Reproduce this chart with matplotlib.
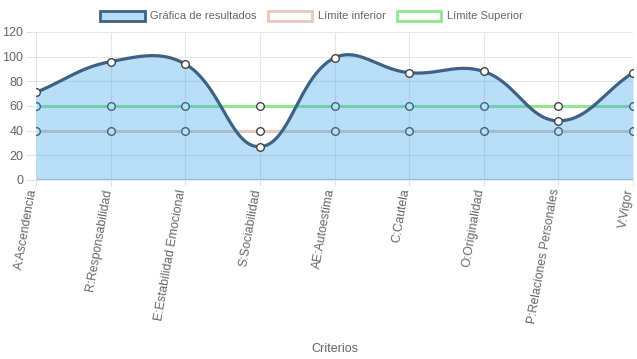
import numpy as np
import matplotlib
matplotlib.use("Agg")
import matplotlib.pyplot as plt
import matplotlib.transforms as mtransforms
from matplotlib.patches import Patch

plt.rcParams['font.family'] = ['Liberation Sans', 'DejaVu Sans']

criterios = ["A:Ascendencia", "R:Responsabilidad", "E:Estabilidad Emocional",
             "S:Sociabilidad", "AE:Autoestima", "C:Cautela", "O:Originalidad",
             "P:Relaciones Personales", "V:Vigor"]
resultados = [71, 96, 94, 27, 99, 87, 88, 48, 87]
limite_inferior = [40, 40, 40, 40, 40, 40, 40, 40, 40]
limite_superior = [60, 60, 60, 60, 60, 60, 60, 60, 60]
y_ticks = [0, 20, 40, 60, 80, 100, 120]

txt = '#666666'
fig = plt.figure(figsize=(6.37, 3.59), dpi=100)
ax = fig.add_axes([36 / 637, 1 - 180 / 359, (633 - 36) / 637, (180 - 32) / 359])
x = np.arange(len(criterios))
ax.set_xlim(0, len(criterios) - 1)
ax.set_ylim(0, 120)


def chartjs_curve(xs, ys, t=0.4, n=40):
    # cubic bezier like Chart.js (tension 0.4), computed in pixel space
    pts = ax.transData.transform(np.column_stack([xs, ys]))
    m = len(pts)
    cp_prev, cp_next = [], []
    for i in range(m):
        prev = pts[i - 1] if i > 0 else pts[i]
        cur = pts[i]
        nxt = pts[i + 1] if i < m - 1 else pts[i]
        d01 = np.hypot(*(cur - prev))
        d12 = np.hypot(*(nxt - cur))
        tot = d01 + d12
        s01 = d01 / tot if tot else 0
        s12 = d12 / tot if tot else 0
        cp_prev.append(cur - t * s01 * (nxt - prev))
        cp_next.append(cur + t * s12 * (nxt - prev))
    out = []
    u = np.linspace(0, 1, n)[:, None]
    for i in range(m - 1):
        p0, p1, p2, p3 = pts[i], cp_next[i], cp_prev[i + 1], pts[i + 1]
        seg = ((1 - u) ** 3) * p0 + 3 * ((1 - u) ** 2) * u * p1 + 3 * (1 - u) * u ** 2 * p2 + u ** 3 * p3
        out.append(seg if i == 0 else seg[1:])
    out = np.vstack(out)
    return ax.transData.inverted().transform(out)


# grid
for yv in y_ticks:
    ax.axhline(yv, color='#cccccc' if yv == 0 else '#e6e6e6', lw=1.6 if yv == 0 else 0.8, zorder=0.5)
for xv in x:
    ax.axvline(xv, color='#e6e6e6', lw=0.8, zorder=0.5)

mk = dict(marker='o', ms=5.5, mfc='white', mec='#444444', mew=1.0)
ax.plot(x, limite_inferior, color='#e6c9bb', lw=2.2, zorder=1, **mk)
ax.plot(x, limite_superior, color='#8fe88f', lw=2.2, zorder=1, **mk)

curve = chartjs_curve(x, resultados)
ax.fill_between(curve[:, 0], 0, curve[:, 1], color='#36a2eb', alpha=0.35, lw=0, zorder=2)
ax.plot(curve[:, 0], curve[:, 1], color='#3d6283', lw=2.3, zorder=3, solid_capstyle='round')
ax.plot(x, resultados, ls='none', zorder=4, **mk)

for s in ax.spines.values():
    s.set_visible(False)
ax.set_yticks(y_ticks)
ax.set_xticks(x)
ax.set_xticklabels([])
# rotated category labels, drawn by hand so they can sit a bit left of the tick
lbl_tr = ax.get_xaxis_transform() + mtransforms.ScaledTranslation(-3 / 100, -9 / 100, fig.dpi_scale_trans)
for xi, name in zip(x, criterios):
    ax.text(xi, 0, name, transform=lbl_tr, rotation=80, ha='right', va='center',
            rotation_mode='anchor', color=txt, fontsize=8.8)
ax.tick_params(axis='y', length=7, color='#e0e0e0', labelcolor=txt, labelsize=9, pad=2)
ax.tick_params(axis='x', length=4, color='#e0e0e0')
ax.text(0.5, -1.14, "Criterios", transform=ax.transAxes, ha='center', va='center',
        color=txt, fontsize=9)

handles = [Patch(facecolor='#b8dbf7', edgecolor='#3d6283', lw=2),
           Patch(facecolor='white', edgecolor='#e6c9bb', lw=2),
           Patch(facecolor='white', edgecolor='#8fe88f', lw=2)]
labels = ["Gráfica de resultados", "Límite inferior", "Límite Superior"]
fig.legend(handles, labels, loc='center', bbox_to_anchor=(0.489, 1 - 16 / 359), ncol=3,
           frameon=False, fontsize=8, handlelength=4.0, handleheight=1.0,
           handletextpad=0.5, columnspacing=1.0, labelcolor=txt)

fig.savefig("out.png", dpi=100)
